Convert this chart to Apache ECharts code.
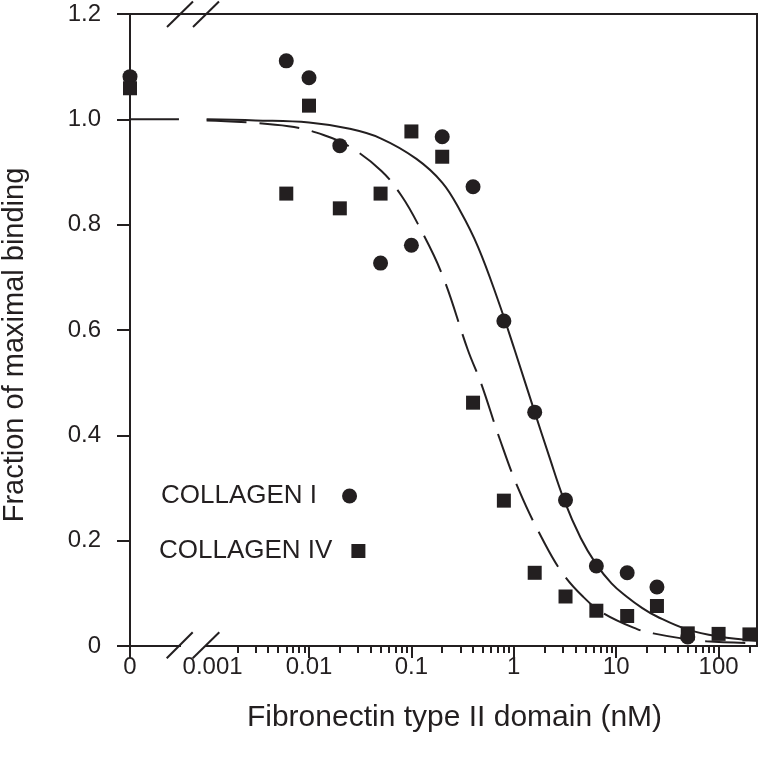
<!DOCTYPE html>
<html><head><meta charset="utf-8">
<script src="https://cdn.jsdelivr.net/npm/echarts@6/dist/echarts.min.js"></script>
<style>html,body{margin:0;padding:0;background:#fff}#c{width:760px;height:760px}</style>
</head><body><div id="c"></div>
<script>
// ---- data (concentrations in nM) ----
const collagenIConc   = [0, 0.006, 0.01, 0.02, 0.05, 0.1, 0.2, 0.4, 0.8, 1.6, 3.2, 6.4, 12.8, 25, 50];
const collagenIValues = [1.081, 1.111, 1.079, 0.950, 0.727, 0.761, 0.967, 0.872, 0.617, 0.444, 0.277, 0.152, 0.139, 0.112, 0.017];
const collagenIVConc   = [0, 0.006, 0.01, 0.02, 0.05, 0.1, 0.2, 0.4, 0.8, 1.6, 3.2, 6.4, 12.8, 25, 50, 100, 200];
const collagenIVValues = [1.059, 0.859, 1.026, 0.831, 0.859, 0.977, 0.929, 0.462, 0.276, 0.139, 0.094, 0.067, 0.057, 0.076, 0.024, 0.023, 0.022];
// fitted curves
const fitIConc   = [0.001, 0.003, 0.01, 0.025, 0.05, 0.112, 0.2, 0.3, 0.447, 0.7, 1.02, 1.6, 2.2, 3.1, 4.5, 6.3, 9, 12.6, 18, 25, 50, 100, 235];
const fitIValues = [1.0, 0.998, 0.994, 0.982, 0.964, 0.925, 0.880, 0.826, 0.758, 0.657, 0.562, 0.444, 0.362, 0.277, 0.205, 0.157, 0.119, 0.094, 0.072, 0.056, 0.031, 0.018, 0.010];
const fitIVConc   = [0.001, 0.0063, 0.015, 0.025, 0.051, 0.08, 0.116, 0.2, 0.356, 0.479, 0.726, 1.14, 2.0, 3.0, 4.73, 7.5, 16, 23, 45, 76, 235];
const fitIVValues = [0.998, 0.987, 0.968, 0.948, 0.902, 0.855, 0.801, 0.705, 0.562, 0.499, 0.394, 0.293, 0.195, 0.138, 0.094, 0.062, 0.032, 0.024, 0.014, 0.009, 0.005];
// plateau of both fits at zero concentration (left of the axis break)
const plateauValues = [1.0, 1.0];

// ---- axis definitions (x axis is log10 of concentration, with a broken-off zero) ----
const X_ZERO = -3.748;       // axis position used for "0"
const X_BREAK_LEFT = -3.27;  // where the zero segment ends before the break
const X_MAX = 2.375;
const xTickLabels = ['0', '0.001', '0.01', '0.1', '1', '10', '100'];
const xTickPositions = [X_ZERO, -3, -2, -1, 0, 1, 2];
const xMajorTicks = [X_ZERO, -2, -1, 0, 1, 2];
const xMinorTickConc = [0.002,0.003,0.004,0.005,0.006,0.007,0.008,0.009,
  0.02,0.03,0.04,0.05,0.06,0.07,0.08,0.09, 0.2,0.3,0.4,0.5,0.6,0.7,0.8,0.9,
  2,3,4,5,6,7,8,9, 20,30,40,50,60,70,80,90, 200];
const yTickLabels = ['0', '0.2', '0.4', '0.6', '0.8', '1.0', '1.2'];

const INK = '#231f20';
const pos = c => c === 0 ? X_ZERO : Math.log10(c);
const pairs = (xs, ys) => xs.map((c, i) => [pos(c), ys[i]]);

const chart = echarts.init(document.getElementById('c'), null, {renderer: 'canvas'});
const font = 'Liberation Sans, Arial, Helvetica, sans-serif';

chart.setOption({
  backgroundColor: '#fff',
  animation: false,
  textStyle: {fontFamily: font, color: INK},
  grid: {left: 130, top: 14, right: 3, bottom: 114, show: true, borderColor: INK, borderWidth: 2,
    backgroundColor: 'transparent', containLabel: false, outerBoundsMode: 'none'},
  xAxis: [{
    type: 'value', min: X_ZERO, max: X_MAX,
    axisLine: {onZero: false, lineStyle: {color: INK, width: 2}},
    axisTick: {customValues: xMajorTicks, length: 12, lineStyle: {color: INK, width: 2}},
    axisLabel: {customValues: xTickPositions, margin: 9, fontSize: 24, color: INK, fontFamily: font,
      rich: {shift: {fontSize: 24, color: INK, fontFamily: font, padding: [0, 0, 0, 12]}},
      formatter: v => {
        const i = xTickPositions.findIndex(p => Math.abs(p - v) < 1e-6);
        if (i < 0) return '';
        return i === 1 ? '{shift|' + xTickLabels[i] + '}' : xTickLabels[i];
      }},
    splitLine: {show: false},
    name: 'Fibronectin type II domain (nM)', nameLocation: 'middle', nameGap: 57,
    nameTextStyle: {fontSize: 30, color: INK, fontFamily: font, padding: [0, 0, 0, 22]}
  }, {
    type: 'value', min: X_ZERO, max: X_MAX, position: 'bottom',
    axisLine: {show: false, onZero: false},
    axisTick: {customValues: xMinorTickConc.map(c => Math.log10(c)), length: 7, lineStyle: {color: INK, width: 2}},
    axisLabel: {show: false}, splitLine: {show: false}
  }],
  yAxis: {
    type: 'value', min: 0, max: 1.2, interval: 0.2,
    axisLine: {show: true, onZero: false, lineStyle: {color: INK, width: 2}},
    axisTick: {show: true, length: 13, lineStyle: {color: INK, width: 2}},
    axisLabel: {margin: 29, fontSize: 24, color: INK, fontFamily: font,
      formatter: v => yTickLabels[Math.round(v / 0.2)]},
    splitLine: {show: false},
    name: 'Fraction of maximal binding', nameLocation: 'middle', nameGap: 101,
    nameTextStyle: {fontSize: 29, color: INK, fontFamily: font, padding: [0, 30, 0, 0]}
  },
  legend: [{
    data: [{name: 'COLLAGEN I', icon: 'circle'}], orient: 'vertical', align: 'right',
    left: 156, top: 478, itemWidth: 15, itemHeight: 15, selectedMode: false,
    textStyle: {fontSize: 26, color: INK, fontFamily: font, padding: [0, 20, 0, 0]}
  }, {
    data: [{name: 'COLLAGEN IV', icon: 'rect'}], orient: 'vertical', align: 'right',
    left: 154, top: 533, itemWidth: 14, itemHeight: 14, selectedMode: false,
    textStyle: {fontSize: 26, color: INK, fontFamily: font, padding: [0, 14, 0, 0]}
  }],
  series: [
    {type: 'line', name: 'fit I', data: pairs(fitIConc, fitIValues), showSymbol: false, smooth: 0.4,
      lineStyle: {color: INK, width: 2}, silent: true, z: 2},
    {type: 'line', name: 'fit IV', data: pairs(fitIVConc, fitIVValues), showSymbol: false, smooth: 0.4,
      lineStyle: {color: INK, width: 2, type: [40, 13]}, silent: true, z: 2},
    {type: 'line', name: 'plateau', data: [[X_ZERO, plateauValues[0]], [X_BREAK_LEFT, plateauValues[1]]], showSymbol: false,
      lineStyle: {color: INK, width: 2}, silent: true, z: 2},
    {type: 'scatter', name: 'COLLAGEN I', data: pairs(collagenIConc, collagenIValues), symbol: 'circle', symbolSize: 15,
      itemStyle: {color: INK, opacity: 1}, z: 3},
    {type: 'scatter', name: 'COLLAGEN IV', data: pairs(collagenIVConc, collagenIVValues), symbol: 'rect', symbolSize: 14,
      itemStyle: {color: INK, opacity: 1}, z: 4}
  ],
  graphic: [
    {type: 'rect', z: 100, shape: {x: 181, y: 641, width: 24, height: 9}, style: {fill: '#fff'}},
    {type: 'line', z: 101, shape: {x1: 166.7, y1: 658.3, x2: 192.7, y2: 632.3}, style: {stroke: INK, lineWidth: 2}},
    {type: 'line', z: 101, shape: {x1: 192.7, y1: 658.3, x2: 219.3, y2: 632.3}, style: {stroke: INK, lineWidth: 2}},
    {type: 'line', z: 101, shape: {x1: 167, y1: 27, x2: 193, y2: 1.5}, style: {stroke: INK, lineWidth: 2}},
    {type: 'line', z: 101, shape: {x1: 193, y1: 27, x2: 219, y2: 1.5}, style: {stroke: INK, lineWidth: 2}}
  ]
});
</script></body></html>
